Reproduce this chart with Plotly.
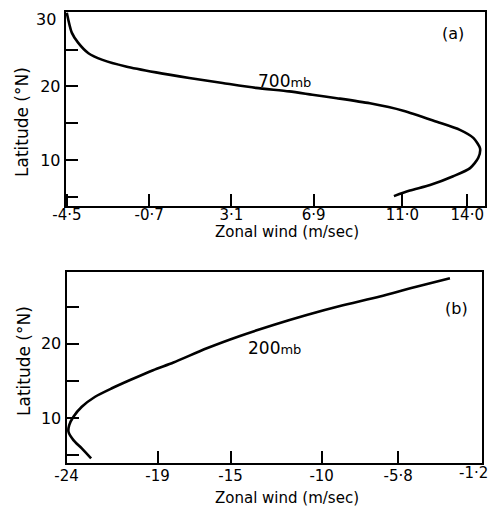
import plotly.graph_objects as go

W, H = 490, 513

# ---- data ----
# (a) 700 mb profile
lat_700 = [30.0, 27.3, 25.9, 24.5, 23.6, 22.7, 21.9, 21.14, 20.46, 19.8, 19.32, 18.87,
           18.4, 17.7, 16.7, 15.2, 14.1, 13.0, 11.6, 10.3, 8.9, 7.8, 6.6, 5.85, 5.1]
wind_700 = [-4.51, -4.28, -3.98, -3.51, -2.86, -1.78, -0.39, 1.15, 2.69, 4.23, 5.77, 6.84,
            7.97, 9.50, 11.04, 12.59, 13.66, 14.28, 14.59, 14.51, 14.13, 13.35, 12.28, 11.35, 10.61]

# (b) 200 mb profile
lat_200 = [4.55, 5.90, 7.02, 8.14, 9.05, 10.17, 11.51, 12.86, 14.0, 15.11, 16.44, 17.47,
           19.39, 21.05, 22.53, 23.88, 25.09, 26.35, 27.56, 28.83]
wind_200 = [-22.65, -23.16, -23.62, -23.89, -23.85, -23.62, -23.16, -22.43, -21.51, -20.51,
            -19.25, -18.13, -16.30, -14.48, -12.65, -10.82, -8.99, -6.80, -4.97, -2.96]

xticks_a = [-4.5, -0.7, 3.1, 6.9, 11.0, 14.0]
xticklabels_a = ["-4\u00b75", "-0\u00b77", "3\u00b71", "6\u00b79", "11\u00b70", "14\u00b70"]
xticks_b = [-24, -19, -15, -10, -5.8, -1.2]
xticklabels_b = ["-24", "-19", "-15", "-10", "-5\u00b78", ""]
last_label_b = "-1\u00b72"
yticks = [5, 10, 15, 20, 25, 30]
yticklabels = ["", "10", "", "20", "", ""]
top_label_y = "30"

FONT = "DejaVu Sans, Liberation Sans, sans-serif"

def px(x):
    return x / W

def py(y):
    return 1 - y / H

fig = go.Figure()
fig.add_trace(go.Scatter(x=wind_700, y=lat_700, mode="lines",
                         line=dict(color="black", width=2.6, shape="spline", smoothing=0.7),
                         xaxis="x", yaxis="y", showlegend=False, hoverinfo="skip"))
fig.add_trace(go.Scatter(x=wind_200, y=lat_200, mode="lines",
                         line=dict(color="black", width=2.6, shape="spline", smoothing=0.7),
                         xaxis="x2", yaxis="y2", showlegend=False, hoverinfo="skip"))

axis_common = dict(showgrid=False, zeroline=False, showline=True, linecolor="black",
                   linewidth=2, mirror=True, ticks="inside", ticklen=12, tickwidth=1.5,
                   tickcolor="black", automargin=False)
xfont = dict(family=FONT, size=15, color="black")
yfont = dict(family=FONT, size=16, color="black")

fig.update_layout(
    width=W, height=H,
    margin=dict(l=0, r=0, t=0, b=0, autoexpand=False),
    paper_bgcolor="white", plot_bgcolor="white",
    font=dict(family=FONT, color="black"),
    xaxis=dict(domain=[px(65.7), px(485)], range=[-4.56, 14.82], anchor="y",
               tickvals=xticks_a, ticktext=xticklabels_a, tickfont=xfont,
               ticklabelstandoff=-6, **axis_common),
    yaxis=dict(domain=[py(205.7), py(12)], range=[3.8, 30.1], anchor="x",
               tickvals=yticks, ticktext=yticklabels, tickfont=yfont, **axis_common),
    xaxis2=dict(domain=[px(66.5), px(482)], range=[-24.0, -1.2], anchor="y2",
                tickvals=xticks_b, ticktext=xticklabels_b, tickfont=xfont,
                ticklabelstandoff=-2, **axis_common),
    yaxis2=dict(domain=[py(463.3), py(271.7)], range=[3.9, 29.7], anchor="x2",
                tickvals=yticks, ticktext=yticklabels, tickfont=yfont, **axis_common),
)

ann = []
def text(x, y, s, size=15, angle=0):
    ann.append(dict(x=px(x), y=py(y), xref="paper", yref="paper", text=s, showarrow=False,
                    xanchor="center", yanchor="middle", textangle=angle,
                    font=dict(family=FONT, size=size, color="black")))

text(287, 232, "Zonal wind (m/sec)", 15)
text(287, 498, "Zonal wind (m/sec)", 15)
text(22, 122, "Latitude (\u00b0N)", 17, -90)
text(24, 361, "Latitude (\u00b0N)", 17, -90)
text(284, 81, "700<span style='font-size:13px'>mb</span>", 17)
text(274, 348, "200<span style='font-size:13px'>mb</span>", 17)
text(453, 33, "(a)", 16)
text(456, 308, "(b)", 16)

# corner tick labels, kept inside the frame / page edge as in the original
ann.append(dict(x=xticks_b[-1], y=py(473), xref="x2", yref="paper", text=last_label_b,
                showarrow=False, xanchor="right", yanchor="middle", xshift=8,
                font=xfont))
ann.append(dict(x=px(58), y=yticks[-1], xref="paper", yref="y", text=top_label_y,
                showarrow=False, xanchor="right", yanchor="middle", yshift=-7,
                font=yfont))
ann.append(dict(x=px(59), y=yticks[-1], xref="paper", yref="y2", text=top_label_y,
                showarrow=False, xanchor="right", yanchor="middle", yshift=-6,
                font=yfont))

fig.update_layout(annotations=ann)

fig.write_html("out.html", post_script="document.body.style.margin='0px';",
               config={"displayModeBar": False})
